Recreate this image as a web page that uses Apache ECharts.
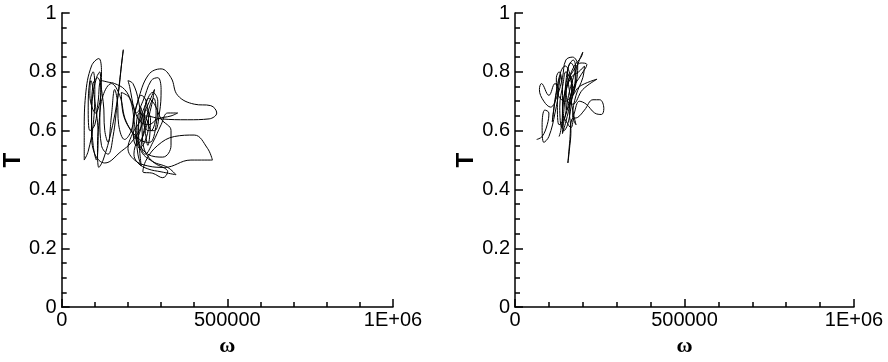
<!DOCTYPE html>
<html>
<head>
<meta charset="utf-8">
<script src="https://cdn.jsdelivr.net/npm/echarts@6/dist/echarts.min.js"></script>
<style>
  html, body { margin: 0; padding: 0; background: #fff; }
  #chart { width: 888px; height: 362px; }
</style>
</head>
<body>
<div id="chart"></div>
<script>
// trajectory of panel 1: [omega, T]
const leftPath = [
  [240000, 0.64], [265000, 0.70], [280000, 0.74], [270000, 0.68], [245000, 0.58],
  [225000, 0.55], [215000, 0.62], [230000, 0.70], [262000, 0.79], [300000, 0.81],
  [330000, 0.78], [350000, 0.72], [400000, 0.69], [450000, 0.685], [468000, 0.66],
  [445000, 0.64], [380000, 0.637], [300000, 0.64], [255000, 0.65], [230000, 0.62],
  [210000, 0.58], [200000, 0.54], [220000, 0.50], [260000, 0.48], [310000, 0.475],
  [390000, 0.50], [455000, 0.50], [440000, 0.54], [400000, 0.585], [340000, 0.58],
  [290000, 0.55], [255000, 0.50], [245000, 0.46], [275000, 0.455], [305000, 0.44],
  [320000, 0.46], [280000, 0.49], [240000, 0.53], [230000, 0.60], [250000, 0.68],
  [275000, 0.73], [290000, 0.70], [285000, 0.62], [265000, 0.56], [235000, 0.57],
  [195000, 0.63], [175000, 0.72], [150000, 0.76], [125000, 0.72], [115000, 0.64],
  [120000, 0.55], [140000, 0.52], [155000, 0.58], [168000, 0.70], [178000, 0.80],
  [186000, 0.875], [182000, 0.84], [170000, 0.72], [150000, 0.60], [125000, 0.50],
  [112000, 0.475], [108000, 0.55], [115000, 0.66], [120000, 0.80], [112000, 0.845],
  [90000, 0.82], [72000, 0.72], [68000, 0.60], [68000, 0.50], [80000, 0.53],
  [95000, 0.62], [100000, 0.74], [95000, 0.80], [85000, 0.77], [80000, 0.68],
  [85000, 0.60], [100000, 0.62], [110000, 0.70], [120000, 0.77], [140000, 0.765],
  [160000, 0.76], [190000, 0.74], [210000, 0.70], [225000, 0.66], [245000, 0.70],
  [270000, 0.77], [290000, 0.78], [300000, 0.74], [295000, 0.66], [280000, 0.60],
  [260000, 0.60], [250000, 0.65], [262000, 0.71], [280000, 0.69], [300000, 0.64],
  [330000, 0.60], [330000, 0.55], [305000, 0.51], [260000, 0.52], [220000, 0.58],
  [185000, 0.66], [180000, 0.73], [205000, 0.71], [220000, 0.62], [230000, 0.52],
  [240000, 0.48], [232000, 0.60], [238000, 0.68], [250000, 0.61], [260000, 0.55],
  [268000, 0.64], [255000, 0.67], [243000, 0.62], [210000, 0.56], [180000, 0.53],
  [130000, 0.49], [100000, 0.52], [90000, 0.60], [92000, 0.70], [105000, 0.78],
  [115000, 0.80], [118000, 0.73], [102000, 0.66], [85000, 0.72], [88000, 0.77],
  [100000, 0.70], [110000, 0.58], [105000, 0.50], [95000, 0.55], [90000, 0.66],
  [95000, 0.76], [108000, 0.78], [125000, 0.70], [130000, 0.60], [140000, 0.56],
  [150000, 0.65], [160000, 0.74], [168000, 0.70], [172000, 0.62], [190000, 0.57],
  [210000, 0.60], [225000, 0.68], [240000, 0.72], [255000, 0.70], [262000, 0.62],
  [250000, 0.56], [235000, 0.54], [225000, 0.60], [235000, 0.66], [255000, 0.64],
  [270000, 0.60], [285000, 0.66], [278000, 0.71], [262000, 0.67], [248000, 0.60],
  [240000, 0.55], [252000, 0.52], [275000, 0.56], [300000, 0.62], [320000, 0.66],
  [350000, 0.66], [330000, 0.65], [290000, 0.64], [262000, 0.62], [238000, 0.63],
  [220000, 0.67], [205000, 0.75], [200000, 0.77], [215000, 0.76], [232000, 0.70],
  [240000, 0.62], [228000, 0.57], [218000, 0.52], [230000, 0.49], [260000, 0.47],
  [300000, 0.46], [345000, 0.45], [320000, 0.475], [270000, 0.50], [245000, 0.56],
  [242000, 0.64]
];

// trajectory of panel 2: [omega, T]
const rightPath = [
  [64000, 0.57], [80000, 0.58], [95000, 0.62], [100000, 0.66], [88000, 0.67],
  [80000, 0.62], [85000, 0.56], [100000, 0.58], [118000, 0.66], [128000, 0.74],
  [118000, 0.76], [100000, 0.72], [78000, 0.76], [72000, 0.74], [85000, 0.70],
  [105000, 0.68], [125000, 0.72], [140000, 0.78], [150000, 0.84], [170000, 0.85],
  [185000, 0.82], [180000, 0.76], [165000, 0.70], [150000, 0.63], [140000, 0.59],
  [145000, 0.68], [155000, 0.76], [170000, 0.80], [195000, 0.83], [212000, 0.825],
  [195000, 0.79], [170000, 0.74], [160000, 0.67], [165000, 0.60], [160000, 0.53],
  [156000, 0.49], [162000, 0.57], [168000, 0.64], [185000, 0.645], [205000, 0.67],
  [230000, 0.705], [250000, 0.705], [262000, 0.675], [255000, 0.655], [235000, 0.66],
  [210000, 0.69], [190000, 0.70], [175000, 0.66], [165000, 0.61], [152000, 0.63],
  [140000, 0.66], [145000, 0.72], [160000, 0.78], [175000, 0.82], [195000, 0.85],
  [200000, 0.867], [190000, 0.84], [172000, 0.78], [158000, 0.72], [148000, 0.65],
  [138000, 0.61], [132000, 0.68], [142000, 0.76], [150000, 0.80], [165000, 0.77],
  [170000, 0.72], [190000, 0.75], [242000, 0.775], [200000, 0.74], [170000, 0.69],
  [155000, 0.70], [150000, 0.75], [160000, 0.79], [170000, 0.76], [160000, 0.70],
  [145000, 0.64], [130000, 0.62], [125000, 0.69], [135000, 0.79], [128000, 0.76],
  [118000, 0.70], [110000, 0.63], [120000, 0.72], [135000, 0.80], [148000, 0.82],
  [160000, 0.80], [168000, 0.74], [165000, 0.68], [155000, 0.62], [145000, 0.60],
  [140000, 0.65], [148000, 0.74], [158000, 0.82], [172000, 0.84], [180000, 0.80],
  [175000, 0.74], [162000, 0.69], [152000, 0.67], [150000, 0.72], [165000, 0.78],
  [188000, 0.80], [205000, 0.82], [200000, 0.78], [180000, 0.72], [170000, 0.65],
  [180000, 0.62], [172000, 0.66], [160000, 0.74], [155000, 0.80], [165000, 0.83],
  [178000, 0.79], [170000, 0.73], [148000, 0.70], [128000, 0.72], [122000, 0.78],
  [130000, 0.80], [140000, 0.74], [140000, 0.66], [135000, 0.60], [130000, 0.58]
];

const xMax = 1000000
const yMax = 1
const xTickLabels = { 0: '0', 500000: '500000', 1000000: '1E+06' }

const chart = echarts.init(document.getElementById('chart'))

const lineStyle = { color: '#000', width: 1.5 }
const font = 'Liberation Sans, Arial, sans-serif'

function xAxis(gridIndex) {
  return {
    type: 'value', gridIndex, min: 0, max: xMax, interval: 500000,
    name: 'ω', nameLocation: 'middle', nameGap: 20,
    nameTextStyle: { fontFamily: 'Liberation Serif, serif', fontSize: 22, fontWeight: 'bold', color: '#000' },
    axisLine: { show: true, lineStyle },
    axisTick: { show: true, inside: true, length: 8, lineStyle },
    minorTick: { show: true, splitNumber: 5, length: 5, lineStyle: { color: '#000', width: 1.5 } },
    splitLine: { show: false },
    axisLabel: {
      color: '#000', fontFamily: font, fontSize: 20, margin: 3,
      formatter: v => xTickLabels[v] !== undefined ? xTickLabels[v] : ''
    }
  }
}

function yAxis(gridIndex) {
  return {
    type: 'value', gridIndex, min: 0, max: yMax, interval: 0.2,
    name: 'T', nameLocation: 'middle', nameGap: 24,
    nameTextStyle: { fontFamily: font, fontSize: 24, fontWeight: 'bold', color: '#000' },
    axisLine: { show: true, lineStyle },
    axisTick: { show: true, inside: true, length: 8, lineStyle },
    minorTick: { show: true, splitNumber: 4, length: 5, lineStyle: { color: '#000', width: 1.5 } },
    splitLine: { show: false },
    axisLabel: {
      color: '#000', fontFamily: font, fontSize: 20, margin: 5,
      formatter: v => (v === 0 || v === 1) ? String(v) : v.toFixed(1)
    }
  }
}

function series(data, i) {
  return {
    type: 'line', xAxisIndex: i, yAxisIndex: i, data,
    showSymbol: false, symbol: 'none', smooth: 0.4,
    lineStyle: { color: '#000', width: 1 }, animation: false
  }
}

chart.setOption({
  animation: false,
  grid: [
    { left: 54, top: 13, width: 339, height: 309 },
    { left: 515, top: 13, width: 339, height: 309 }
  ],
  xAxis: [xAxis(0), xAxis(1)],
  yAxis: [yAxis(0), yAxis(1)],
  series: [series(leftPath, 0), series(rightPath, 1)]
})
</script>
</body>
</html>
